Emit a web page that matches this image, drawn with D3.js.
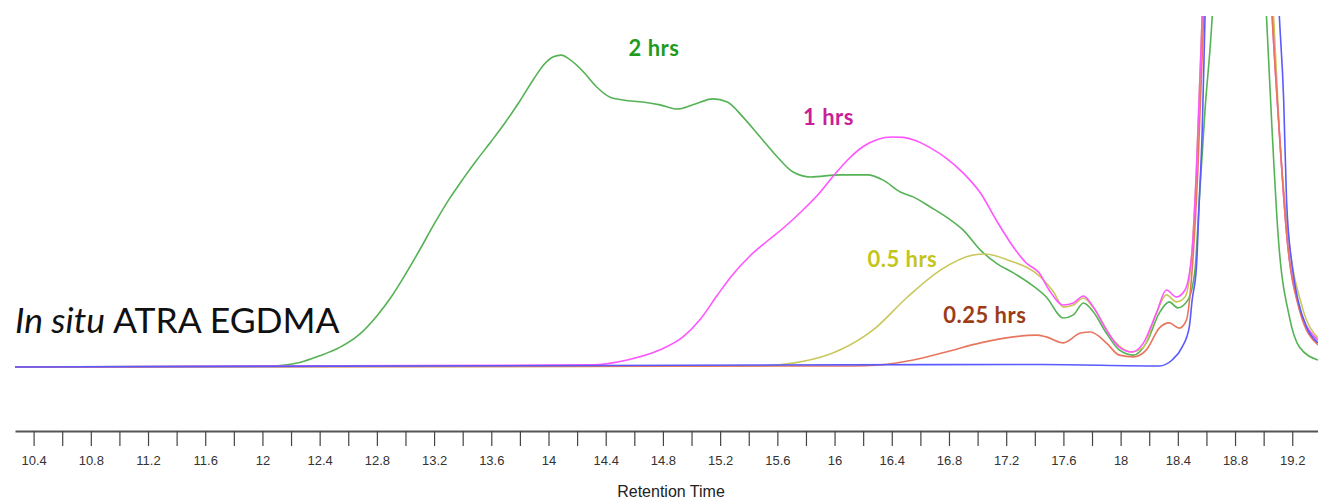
<!DOCTYPE html>
<meta charset="utf-8">
<script src="https://d3js.org/d3.v7.min.js"></script>
<style>
  body { margin: 0; background: #fff; }
</style>
<div id="chart"></div>
<script>

// retention time (min) and detector signal (arbitrary units, 100 = top of view)
var t2h = [10.27, 12.05, 12.26, 12.40, 12.54, 12.68, 12.80, 12.90, 13.00, 13.10, 13.20, 13.30, 13.40, 13.50, 13.60, 13.70, 13.80, 13.90, 13.97, 14.03, 14.09, 14.15, 14.24, 14.33, 14.43, 14.52, 14.66, 14.78, 14.90, 15.01, 15.15, 15.25, 15.36, 15.48, 15.60, 15.71, 15.83, 16.04, 16.23, 16.34, 16.46, 16.55, 16.67, 16.78, 16.90, 17.02, 17.13, 17.25, 17.36, 17.48, 17.60, 17.67, 17.74, 17.81, 17.90, 17.99, 18.09, 18.18, 18.27, 18.34, 18.40, 18.47, 18.52, 18.55, 18.59, 18.64, 18.83, 19.02, 19.06, 19.10, 19.18, 19.25, 19.38];
var v2h = [0, 0.3, 1.3, 3.2, 5.6, 9.4, 14.6, 20.0, 26.5, 33.5, 40.8, 47.6, 53.6, 59.2, 64.5, 70.0, 76.0, 82.5, 86.5, 88.6, 89.1, 87.8, 84.5, 80.3, 77.1, 76.3, 75.7, 74.9, 73.7, 74.9, 76.6, 75.7, 71.4, 65.7, 60.0, 55.7, 54.3, 54.9, 54.9, 53.4, 50.0, 48.6, 45.7, 42.9, 39.1, 33.4, 29.7, 26.9, 24.0, 20.0, 14.0, 14.9, 18.3, 15.7, 9.7, 4.9, 3.4, 6.9, 15.4, 18.6, 16.9, 19.1, 27.7, 47.7, 73.4, 100, 400, 100, 66.9, 38.3, 14.3, 5.7, 2.0];

var t1h = [10.27, 14.31, 14.55, 14.78, 14.94, 15.06, 15.18, 15.29, 15.41, 15.53, 15.65, 15.77, 15.89, 16.00, 16.10, 16.20, 16.30, 16.40, 16.48, 16.55, 16.67, 16.78, 16.90, 17.02, 17.13, 17.25, 17.34, 17.43, 17.50, 17.60, 17.67, 17.74, 17.81, 17.90, 17.99, 18.08, 18.16, 18.25, 18.32, 18.39, 18.45, 18.50, 18.53, 18.57, 18.81, 19.06, 19.11, 19.16, 19.25, 19.38];
var v1h = [0, 0.6, 2.0, 4.9, 8.6, 13.6, 20.5, 26.5, 31.8, 36.0, 40.0, 44.5, 49.5, 55.0, 59.5, 63.0, 65.0, 65.7, 65.6, 64.9, 62.6, 59.7, 55.4, 49.7, 42.0, 34.3, 29.7, 26.9, 22.0, 17.7, 18.3, 20.3, 17.1, 10.6, 5.7, 4.3, 6.9, 15.4, 22.0, 20.0, 22.0, 33.4, 56.3, 100, 450, 100, 66.9, 38.3, 17.1, 7.7];

var t05h = [10.27, 15.48, 15.71, 15.95, 16.04, 16.27, 16.51, 16.74, 16.97, 17.05, 17.21, 17.44, 17.53, 17.60, 17.67, 17.74, 17.81, 17.95, 18.07, 18.16, 18.25, 18.32, 18.39, 18.45, 18.50, 18.53, 18.57, 18.81, 19.07, 19.11, 19.17, 19.27, 19.38];
var v05h = [0, 0.3, 1.1, 3.4, 4.9, 10.6, 20.0, 27.7, 32.0, 32.3, 30.6, 25.7, 21.5, 17.1, 17.7, 19.7, 16.9, 7.7, 4.3, 5.7, 15.4, 20.6, 18.6, 20.0, 33.4, 56.3, 100, 450, 100, 66.9, 38.3, 17.1, 8.3];

var t025h = [10.27, 16.11, 16.32, 16.55, 16.78, 17.02, 17.25, 17.41, 17.48, 17.60, 17.72, 17.79, 17.90, 17.99, 18.09, 18.18, 18.27, 18.34, 18.41, 18.46, 18.50, 18.54, 18.58, 18.81, 19.06, 19.11, 19.16, 19.25, 19.38];
var v025h = [0, 0.3, 0.6, 2.0, 4.3, 6.9, 8.6, 9.1, 8.6, 6.9, 9.7, 10.0, 6.9, 3.4, 2.9, 4.9, 11.1, 12.6, 11.1, 13.4, 27.7, 56.3, 100, 450, 100, 66.9, 38.3, 16.3, 6.3];

var t0h = [10.27, 17.45, 18.27, 18.36, 18.43, 18.48, 18.50, 18.53, 18.55, 18.57, 18.59, 18.84, 19.11, 19.14, 19.16, 19.20, 19.24, 19.30, 19.38];
var v0h = [0, 0.7, 0.3, 2.0, 5.7, 11.4, 19.1, 28.6, 47.7, 66.9, 100, 450, 100, 76.3, 47.7, 28.6, 19.1, 11.4, 6.9];

var seriesNames = ["2 hrs", "0.5 hrs", "1 hrs", "0.25 hrs", "0 hrs"];
var seriesTimes = [t2h, t05h, t1h, t025h, t0h];
var seriesValues = [v2h, v05h, v1h, v025h, v0h];
var lineColors = ["#55b255", "#c8c85a", "#ff55ff", "#e8765e", "#5a5aff"];

// peak labels: text, anchor time, anchor signal
var labelText = ["2 hrs", "1 hrs", "0.5 hrs", "0.25 hrs"];
var labelTime = [14.56, 15.78, 16.23, 16.76];
var labelSignal = [88.9, 69.1, 28.6, 12.6];
var labelColors = ["#1f9c1f", "#c91f98", "#c4c41c", "#9c3d17"];

var tickMajor = [10.4, 10.8, 11.2, 11.6, 12, 12.4, 12.8, 13.2, 13.6, 14, 14.4, 14.8, 15.2, 15.6, 16, 16.4, 16.8, 17.2, 17.6, 18, 18.4, 18.8, 19.2];
var tickMinor = [10.6, 11.0, 11.4, 11.8, 12.2, 12.6, 13.0, 13.4, 13.8, 14.2, 14.6, 15.0, 15.4, 15.8, 16.2, 16.6, 17.0, 17.4, 17.8, 18.2, 18.6, 19.0];

var width = 1318, height = 502;

var svg = d3.select("#chart")
  .append("svg")
    .attr("width", width)
    .attr("height", height);

var x = d3.scaleLinear()
    .domain([10.27, 19.38])
    .range([15, 1318]);

var y = d3.scaleLinear()
    .domain([0, 100])
    .range([367, 17]);

// clip so the big solvent peak runs off the top
svg.append("clipPath")
    .attr("id", "plotclip")
  .append("rect")
    .attr("x", 0)
    .attr("y", 16)
    .attr("width", width)
    .attr("height", 400);

var line = d3.line()
    .x(function(d) { return x(d[0]); })
    .y(function(d) { return y(d[1]); })
    .curve(d3.curveMonotoneX);

var plot = svg.append("g").attr("clip-path", "url(#plotclip)");

seriesNames.forEach(function(name, i) {
  var pts = seriesTimes[i].map(function(t, j) { return [t, seriesValues[i][j]]; });
  plot.append("path")
      .datum(pts)
      .attr("fill", "none")
      .attr("stroke", lineColors[i])
      .attr("stroke-width", 1.6)
      .attr("d", line);
});

// x axis
var axisY = 431;
var axis = svg.append("g")
    .attr("transform", "translate(0," + axisY + ")");

axis.call(d3.axisBottom(x)
    .tickValues(tickMajor.concat(tickMinor))
    .tickSize(15)
    .tickSizeOuter(0)
    .tickPadding(10)
    .tickFormat(function(d) { return tickMajor.indexOf(d) >= 0 ? d3.format("~g")(d) : ""; }));

axis.select(".domain")
    .attr("stroke", "#555")
    .attr("stroke-width", 2);
axis.selectAll(".tick line")
    .attr("stroke", "#444")
    .attr("stroke-width", 1.2);
axis.selectAll(".tick text")
    .attr("fill", "#333")
    .style("font", "13px 'Liberation Sans', Arial, sans-serif");

svg.append("text")
    .attr("x", 671)
    .attr("y", 497)
    .attr("text-anchor", "middle")
    .attr("fill", "#222")
    .style("font", "16px 'Liberation Sans', Arial, sans-serif")
    .text("Retention Time");

// peak labels
labelText.forEach(function(txt, i) {
  svg.append("text")
      .attr("x", x(labelTime[i]))
      .attr("y", y(labelSignal[i]))
      .attr("fill", labelColors[i])
      .style("font", "bold 22px Lato, 'Open Sans', sans-serif")
      .style("letter-spacing", "0.5px")
      .text(txt);
});

// sample title
var title = svg.append("text")
    .attr("x", x(10.27))
    .attr("y", y(9.7))
    .attr("fill", "#111")
    .style("font", "35.5px Lato, 'Open Sans', sans-serif");
title.append("tspan").style("font-style", "italic").text("In situ");
title.append("tspan").text(" ATRA EGDMA");

</script>
